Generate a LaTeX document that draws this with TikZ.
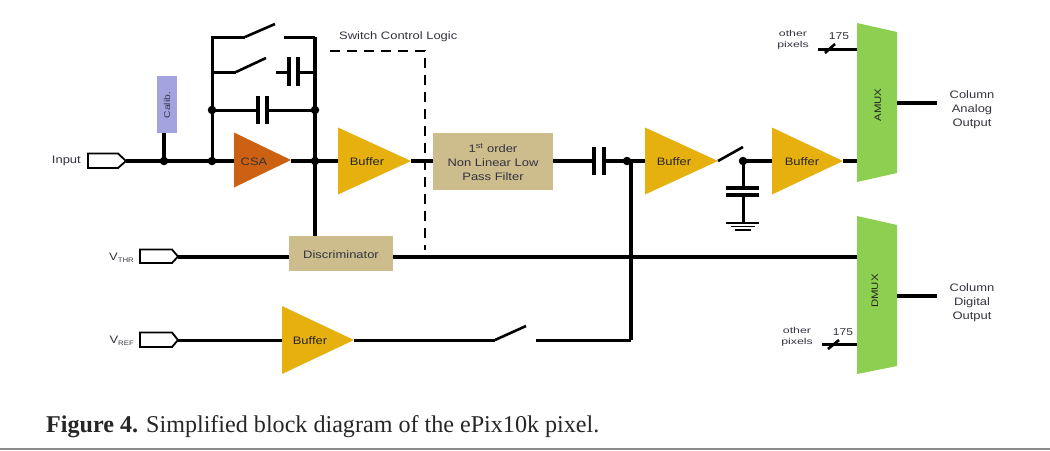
\documentclass[tikz,border=0pt]{standalone}
\usepackage{fontspec}
\setmainfont[FakeStretch=1.2]{Liberation Sans}
\newfontfamily\widefont[FakeStretch=1.45]{Liberation Sans}
\newfontfamily\capfont{Liberation Serif}
\usetikzlibrary{shapes.geometric}
\definecolor{csac}{HTML}{CC6114}
\definecolor{bufc}{HTML}{E6B00F}
\definecolor{tanc}{HTML}{CDBC8C}
\definecolor{muxc}{HTML}{8DCF50}
\definecolor{calc}{HTML}{A3A3E0}
\definecolor{txtc}{HTML}{333340}
\tikzset{
  x=1pt,y=-1pt,
  wire/.style={line width=3pt,black},
  mainwire/.style={line width=3.6pt,black},
  thickwire/.style={line width=4pt,black},
  plate/.style={line width=3.2pt,black},
  blade/.style={line width=2.6pt,black},
  dot/.style={circle,fill=black,inner sep=0pt,minimum size=8.5pt},
  tri/.style={isosceles triangle,isosceles triangle stretches,inner sep=0pt,outer sep=0pt,anchor=lower side},
  buf/.style={tri,fill=bufc,minimum width=67pt,minimum height=73pt},
  tanbox/.style={fill=tanc,inner sep=0pt},
  tantxt/.style={inner sep=0pt,align=center,text=txtc,font=\fontsize{10.8}{14}\selectfont},
  port/.style={draw=black,line width=1.8pt,fill=white},
  lbl/.style={text=txtc,font=\fontsize{10.8}{14}\selectfont,align=center,inner sep=0pt},
  small/.style={text=txtc,font=\widefont\fontsize{8.5}{11}\selectfont,align=center,inner sep=0pt},
  trilbl/.style={inner sep=0pt,text=black!85,font=\fontsize{10.8}{12}\selectfont},
  muxlbl/.style={rotate=90,font=\fontsize{9.5}{11}\selectfont,inner sep=0pt,text=black!85},
  muxshape/.style={fill=muxc},
}
\begin{document}
\begin{tikzpicture}
\useasboundingbox (0,0) rectangle (1050,450);
\fill[white] (0,0) rectangle (1050,450);

% coordinates
\coordinate (in) at (126,161);
\coordinate (thr) at (178,257);
\coordinate (ref) at (178,340);
\coordinate (jcal) at (164,161);
\coordinate (jl) at (212,161);
\coordinate (jm) at (212,110);
\coordinate (ltop) at (212,37);
\coordinate (lmid) at (212,72);
\coordinate (rtop) at (315,37);
\coordinate (rmid) at (315,72);
\coordinate (rm) at (315,110);
\coordinate (rl) at (315,161);
\coordinate (s1a) at (245,37);
\coordinate (s1b) at (275,24);
\coordinate (s1c) at (284,37);
\coordinate (s2a) at (236,72);
\coordinate (s2b) at (266,58);
\coordinate (s2c) at (276,72);
\coordinate (jf) at (631,161);
\coordinate (fall) at (631,340);
\coordinate (s3b) at (743,147);
\coordinate (jc) at (743,161);
\coordinate (g) at (743,223);
\coordinate (s4a) at (495,340);
\coordinate (s4b) at (526,326);
\coordinate (s4c) at (536,340);
\coordinate (da) at (330,51);
\coordinate (db) at (425,51);
\coordinate (dc) at (425,250);

% fills
\node[tri,fill=csac,minimum width=55pt,minimum height=57pt] (csa) at (234,160) {};
\node[buf] (b1) at (338,161) {};
\node[buf] (b2) at (645,161) {};
\node[buf,minimum width=67pt,minimum height=71pt] (b3) at (772,161) {};
\node[buf,minimum width=68pt,minimum height=72pt] (b4) at (282,340) {};
\node[tanbox,minimum width=120pt,minimum height=57pt] (lpf) at (493,161.5) {};
\node[tantxt] (lpft) at (493,162.5) {1\textsuperscript{st} order\\Non Linear Low\\Pass Filter};
\node[tanbox,minimum width=104pt,minimum height=35pt] (disc) at (341,253.5) {};
\node[tantxt] (disct) at (341,255) {Discriminator};
\node[fill=calc,minimum width=20pt,minimum height=57pt,inner sep=0pt] (cal) at (167,104.5) {};
\node[rotate=90,text=txtc,font=\fontsize{8.5}{11}\selectfont,inner sep=0pt] (caltxt) at (167,105) {Calib.};

% mux shapes
\fill[muxshape] (857,23) -- (897,32) -- (897,173) -- (857,182) -- cycle;
\fill[muxshape] (857,216) -- (897,225) -- (897,366) -- (857,374) -- cycle;
\coordinate (am1) at (857,49);
\coordinate (am2) at (857,161);
\coordinate (am3) at (897,103);
\coordinate (dm1) at (857,257);
\coordinate (dm2) at (857,344);
\coordinate (dm3) at (897,296);
\coordinate (ao) at (937,103);
\coordinate (do) at (937,296);
\coordinate (ot1) at (818,49);
\coordinate (ot2) at (822,344);
\coordinate (t1a) at (825,53);
\coordinate (t1b) at (835,44);
\coordinate (t2a) at (828,349);
\coordinate (t2b) at (839,340);
\node[muxlbl] (amux) at (878,105) {AMUX};
\node[muxlbl] (dmux) at (875,291) {DMUX};

% ports
\draw[port] (88,153.5) -- (118,153.5) -- (126,161) -- (118,168) -- (88,168) -- cycle;
\draw[port] (140,249.5) -- (172,249.5) -- (178,256.5) -- (172,263) -- (140,263) -- cycle;
\draw[port] (140,332.5) -- (172,332.5) -- (178,340) -- (172,347) -- (140,347) -- cycle;

% wires
\draw[mainwire] (in) -- (csa.lower side |- in);
\draw[mainwire] (jcal) -- (cal.south -| jcal);
\draw[mainwire] (csa.apex |- in) -- (b1.lower side);
\draw[mainwire] (b1.apex) -- (lpf.west |- b1.apex);
\draw[wire] (jl) -- (ltop) -- (s1a);
\draw[blade] (s1a) -- (s1b);
\draw[wire] (s1c) -- (rtop);
\draw[wire] (lmid) -- (s2a);
\draw[blade] (s2a) -- (s2b);
\draw[thickwire] (rtop) -- (disc.north -| rtop);
\draw[wire] (jm) -- (258,110);
\draw[wire] (267,110) -- (rm);
\draw[plate] (258,96) -- (258,124);
\draw[plate] (267,96) -- (267,124);
\draw[wire] (s2c) -- (289,72);
\draw[wire] (298,72) -- (rmid);
\draw[plate] (289,57) -- (289,86);
\draw[plate] (298,57) -- (298,86);
\draw[mainwire] (lpf.east |- jf) -- (594,161);
\draw[plate] (594,147) -- (594,175);
\draw[plate] (604,147) -- (604,175);
\draw[mainwire] (604,161) -- (b2.lower side);
\draw[mainwire] (jf) -- (fall);
\draw[blade] (b2.apex) -- (s3b);
\draw[mainwire] (jc) -- (b3.lower side);
\draw[mainwire] (b3.apex) -- (am2);
\draw[wire] (jc) -- (743,188);
\draw[plate] (726,188) -- (759,188);
\draw[plate] (726,195) -- (759,195);
\draw[wire] (743,195) -- (g);
\draw[plate,line width=2.2pt] (726,223) -- (759,223);
\draw[plate,line width=1.6pt] (731,226.5) -- (755,226.5);
\draw[plate,line width=1.6pt] (735,230) -- (751,230);
\draw[dashed,line width=2.6pt,dash pattern=on 10pt off 7pt] (da) -- (db) -- (dc);
\draw[wire,line width=3.2pt] (thr) -- (disc.west |- thr);
\draw[thickwire] (disc.east |- thr) -- (dm1);
\draw[wire] (ref) -- (b4.lower side);
\draw[wire] (b4.apex) -- (s4a);
\draw[blade] (s4a) -- (s4b);
\draw[wire] (s4c) -- (fall);
\draw[wire] (ot1) -- (am1);
\draw[wire] (ot2) -- (dm2);
\draw[blade] (t1a) -- (t1b);
\draw[blade] (t2a) -- (t2b);
\draw[thickwire] (am3) -- (ao);
\draw[thickwire] (dm3) -- (do);

% dots
\node[dot] (d1) at (jcal) {};
\node[dot] (d2) at (jl) {};
\node[dot] (d3) at (jm) {};
\node[dot] (d4) at (rm) {};
\node[dot] (d5) at (rl) {};
\node[dot] (d6) at (627,161) {};
\node[dot] (d7) at (jc) {};

% triangle labels
\node[trilbl,text=black!80] (csatxt) at (254,162) {CSA};
\node[trilbl] (b1t) at (367,162) {Buffer};
\node[trilbl] (b2t) at (674,162) {Buffer};
\node[trilbl] (b3t) at (802,162) {Buffer};
\node[trilbl] (b4t) at (310,341) {Buffer};

% labels
\node[lbl,anchor=east] (linput) at (81,161) {Input};
\node[lbl,anchor=base east] (lthr) at (134,260) {V\raisebox{-2pt}{\fontsize{6.5}{8}\selectfont THR}};
\node[lbl,anchor=base east] (lref) at (134,343) {V\raisebox{-2pt}{\fontsize{6.5}{8}\selectfont REF}};
\node[lbl,anchor=west] (lsw) at (339,36.5) {Switch Control Logic};
\node[small] (op1) at (793,40) {other\\pixels};
\node[small] (op2) at (797,337) {other\\pixels};
\node[lbl,font=\fontsize{10}{14}\selectfont] (n1) at (839,36) {175};
\node[lbl,font=\fontsize{10}{14}\selectfont] (n2) at (843,332) {175};
\node[lbl] (cao) at (972,110) {Column\\Analog\\Output};
\node[lbl] (cdo) at (972,303) {Column\\Digital\\Output};

% caption
\node[anchor=base west,inner sep=0pt,text=black!85,font=\capfont\fontsize{24.1}{26}\selectfont] (cap) at (46,432) {\textbf{Figure 4.} Simplified block diagram of the ePix10k pixel.};
\draw[line width=1.5pt,black!45] (0,449) -- (1050,449);
\end{tikzpicture}
\end{document}
